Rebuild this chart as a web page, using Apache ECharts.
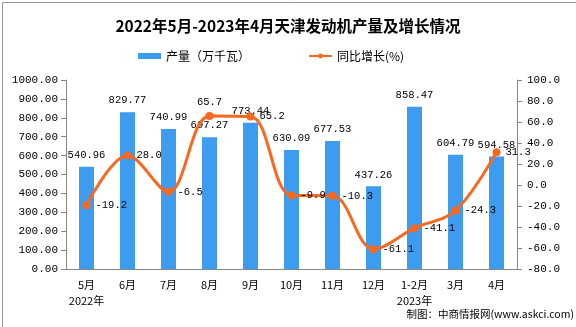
<!DOCTYPE html>
<html>
<head>
<meta charset="utf-8">
<script src="https://cdn.jsdelivr.net/npm/echarts@6/dist/echarts.min.js"></script>
<style>
html,body{margin:0;padding:0;background:#fff;}
#c{width:576px;height:327px;}
</style>
</head>
<body>
<div id="c"></div>
<script>
const categories = ['5月\n2022年', '6月', '7月', '8月', '9月', '10月', '11月', '12月', '1-2月\n2023年', '3月', '4月'];
const output = [540.96, 829.77, 740.99, 697.27, 773.44, 630.09, 677.53, 437.26, 858.47, 604.79, 594.58];
const growth = [-19.2, 28.0, -6.5, 65.7, 65.2, -9.9, -10.3, -61.1, -41.1, -24.3, 31.3];
const leftTicks = { min: 0, max: 1000, interval: 100 };
const rightTicks = { min: -80, max: 100, interval: 20 };

const monoFont = '"Liberation Mono", "DejaVu Sans Mono", monospace';
const cjkFont = '"Noto Sans CJK SC", sans-serif';
const axisColor = '#888';

const chart = echarts.init(document.getElementById('c'));
chart.setOption({
  animation: false,
  backgroundColor: '#fff',
  title: {
    text: '2022年5月-2023年4月天津发动机产量及增长情况',
    left: 'center',
    top: 13,
    textStyle: { fontFamily: cjkFont, fontSize: 15.5, fontWeight: 'bold', color: '#000' }
  },
  legend: {
    top: 45,
    left: 133,
    itemGap: 58,
    itemWidth: 23,
    itemHeight: 6,
    textStyle: { fontFamily: cjkFont, fontSize: 12, color: '#000' },
    data: [
      { name: '产量（万千瓦）', icon: 'rect' },
      { name: '同比增长(%)' }
    ]
  },
  grid: { left: 66, right: 59, top: 80, bottom: 58 },
  xAxis: {
    type: 'category',
    data: categories,
    axisLine: { onZero: false, lineStyle: { color: axisColor } },
    axisTick: { lineStyle: { color: axisColor }, length: 5 },
    axisLabel: { color: '#000', fontFamily: cjkFont, fontSize: 11, interval: 0, margin: 8, lineHeight: 16 }
  },
  yAxis: [
    {
      type: 'value',
      min: leftTicks.min, max: leftTicks.max, interval: leftTicks.interval,
      axisLine: { show: true, lineStyle: { color: axisColor } },
      axisTick: { show: true, lineStyle: { color: axisColor }, length: 5 },
      splitLine: { show: false },
      axisLabel: { color: '#000', fontFamily: monoFont, fontSize: 11, margin: 8, formatter: v => v.toFixed(2) }
    },
    {
      type: 'value',
      min: rightTicks.min, max: rightTicks.max, interval: rightTicks.interval,
      axisLine: { show: true, lineStyle: { color: axisColor } },
      axisTick: { show: true, lineStyle: { color: axisColor }, length: 5 },
      splitLine: { show: false },
      axisLabel: { color: '#000', fontFamily: monoFont, fontSize: 11, margin: 10, formatter: v => v.toFixed(1) }
    }
  ],
  series: [
    {
      name: '产量（万千瓦）',
      type: 'bar',
      data: output,
      barWidth: 15,
      itemStyle: { color: '#3D9CF0' },
      label: {
        show: true, position: 'top', distance: 6,
        color: '#000', fontFamily: monoFont, fontSize: 10.5,
        formatter: p => p.value.toFixed(2)
      }
    },
    {
      name: '同比增长(%)',
      type: 'line',
      yAxisIndex: 1,
      data: growth.map((v, i) => i === 3 ? { value: v, label: { position: 'top', distance: 4 } } : v),
      smooth: 0.35,
      symbol: 'circle',
      symbolSize: 8,
      lineStyle: { color: '#F8681F', width: 3 },
      itemStyle: { color: '#F8681F' },
      label: {
        show: true, position: 'right', distance: 5,
        color: '#000', fontFamily: monoFont, fontSize: 10.5,
        formatter: p => p.value.toFixed(1)
      }
    }
  ],
  graphic: [
    {
      type: 'rect', left: 0, top: 0, silent: true,
      shape: { x: 0.5, y: 0.5, width: 575, height: 326 },
      style: { fill: 'none', stroke: '#999', lineWidth: 1 }
    },
    {
      type: 'text', right: 2, bottom: 8,
      style: { text: '制图：中商情报网(www.askci.com)', fill: '#000', font: '10.5px "Noto Sans CJK SC", sans-serif' }
    }
  ]
});
</script>
</body>
</html>
